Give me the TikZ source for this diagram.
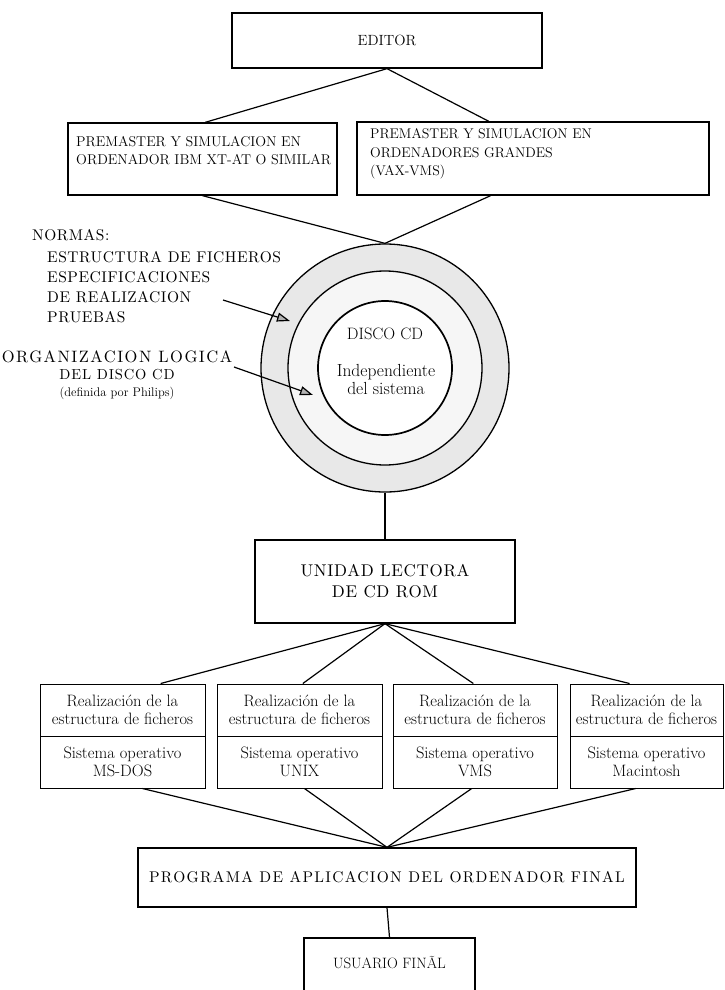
\documentclass[tikz,border=0pt]{standalone}
\usetikzlibrary{arrows.meta,calc}
\newcommand\myls[2]{\font\mylsfont="[lmroman10-regular]:mapping=tex-text;letterspace=#2" at #1pt\mylsfont}
\begin{document}
\begin{tikzpicture}[x=1pt,y=-1pt,
  box/.style={draw=black,line width=1.3pt,inner sep=0pt},
  sbox/.style={draw=black,line width=1pt,inner sep=0pt,minimum height=52pt,align=center,font=\fontsize{16.5}{17.5}\selectfont},
  conn/.style={draw=black,line width=1.2pt},
  ptr/.style={draw=black,line width=1.2pt,-{Triangle[length=13pt,width=9pt,fill=gray!60]}},
  lab/.style={inner sep=0pt,align=left},
  ring/.style={circle,draw=black,inner sep=0pt},
]
\useasboundingbox (0,0) rectangle (724,990);
\fill[white] (0,0) rectangle (724,990);

% top
\node[box,minimum width=310pt,minimum height=55pt,font=\fontsize{14.8}{16}\selectfont] (editor) at (387,40.5) {EDITOR};

\node[box,minimum width=269pt,minimum height=72pt] (pre1) at (202.5,159) {};
\node[lab,anchor=west,font=\fontsize{14.2}{18}\selectfont] (pre1t) at (76,151) {PREMASTER Y SIMULACION EN\\ORDENADOR IBM XT-AT O SIMILAR};
\node[box,minimum width=352pt,minimum height=73pt] (pre2) at (533,158.5) {};
\node[lab,anchor=west,font=\fontsize{14}{18.5}\selectfont] (pre2t) at (370,154) {PREMASTER Y SIMULACION EN\\ORDENADORES GRANDES\\(VAX-VMS)};

% disc
\node[ring,line width=1.3pt,fill=gray!18,minimum size=248pt] (disc) at (385,368) {};
\node[ring,line width=1.3pt,fill=gray!7,minimum size=194pt] (mid) at (385,368) {};
\node[ring,line width=1.7pt,fill=white,minimum size=134pt] (core) at (385,368) {};
\node[inner sep=0pt,font=\fontsize{16.5}{17}\selectfont] (disco) at (385,334) {DISCO CD};
\node[inner sep=0pt,align=center,font=\fontsize{17.5}{18}\selectfont] (indep) at (386,379) {Independiente\\del sistema};

% left labels
\node[lab,anchor=west,font={\fontsize{15.5}{20}\selectfont\myls{15.5}{3.5}}] (normas) at (32,235) {NORMAS:};
\node[lab,anchor=west,font={\fontsize{15.5}{20}\selectfont\myls{15.5}{3.5}}] (normlist) at (47,287) {ESTRUCTURA DE FICHEROS\\ESPECIFICACIONES\\DE REALIZACION\\PRUEBAS};
\node[inner sep=0pt,font={\myls{16.5}{9}}] (org1) at (117,357) {ORGANIZACION LOGICA};
\node[inner sep=0pt,font={\myls{14.5}{6}}] (org2) at (117,375) {DEL DISCO CD};
\node[inner sep=0pt,font=\fontsize{12.5}{14}\selectfont] (org3) at (117,393) {(definida por Philips)};

\coordinate (nA) at (223,300);
\coordinate (nB) at (290,321);
\coordinate (oA) at (234,367);
\coordinate (oB) at (313,395);
\draw[ptr] (nA) -- (nB);
\draw[ptr] (oA) -- (oB);

% reader
\node[box,minimum width=260pt,minimum height=83pt,align=center,font={\fontsize{17}{21}\selectfont\myls{17}{4}}] (unidad) at (385,581.5) {UNIDAD LECTORA\\DE CD ROM};

% bottom boxes
\node[sbox,minimum width=165pt] (r1) at (122.5,710) {Realización de la\\estructura de ficheros};
\node[sbox,minimum width=165pt] (s1) at (122.5,762) {Sistema operativo\\MS-DOS};
\node[sbox,minimum width=165pt] (r2) at (299.5,710) {Realización de la\\estructura de ficheros};
\node[sbox,minimum width=165pt] (s2) at (299.5,762) {Sistema operativo\\UNIX};
\node[sbox,minimum width=164pt] (r3) at (475,710) {Realización de la\\estructura de ficheros};
\node[sbox,minimum width=164pt] (s3) at (475,762) {Sistema operativo\\VMS};
\node[sbox,minimum width=153pt] (r4) at (646.5,710) {Realización de la\\estructura de ficheros};
\node[sbox,minimum width=153pt] (s4) at (646.5,762) {Sistema operativo\\Macintosh};

% program and user
\node[box,minimum width=498pt,minimum height=59pt,font={\myls{15.5}{8.5}}] (programa) at (387,877.5) {PROGRAMA DE APLICACION DEL ORDENADOR FINAL};
\node[box,minimum width=171pt,minimum height=62pt] (usuario) at (389.5,969) {};
\node[inner sep=0pt,font=\fontsize{15}{16}\selectfont] (usuariot) at (389.5,963) {USUARIO FINÃL};

% connectors
\draw[conn] ($(pre1.north west)!0.51!(pre1.north east)$) -- (editor.south) -- ($(pre2.north west)!0.375!(pre2.north east)$);
\draw[conn] (pre1.south) -- (disc.north) -- ($(pre2.south west)!0.38!(pre2.south east)$);
\draw[conn] (disc.south) -- (unidad.north);
\draw[conn] (unidad.south) -- ($(r1.north west)!0.73!(r1.north east)$);
\draw[conn] (unidad.south) -- ($(r2.north west)!0.52!(r2.north east)$);
\draw[conn] (unidad.south) -- ($(r3.north west)!0.49!(r3.north east)$);
\draw[conn] (unidad.south) -- ($(r4.north west)!0.39!(r4.north east)$);
\draw[conn] ($(s1.south west)!0.62!(s1.south east)$) -- (programa.north);
\draw[conn] ($(s2.south west)!0.53!(s2.south east)$) -- (programa.north);
\draw[conn] ($(s3.south west)!0.48!(s3.south east)$) -- (programa.north);
\draw[conn] ($(s4.south west)!0.43!(s4.south east)$) -- (programa.north);
\draw[conn] (programa.south) -- (usuario.north);
\end{tikzpicture}
\end{document}
